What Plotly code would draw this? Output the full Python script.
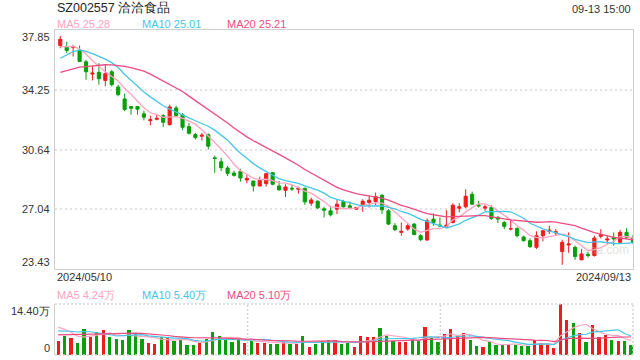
import plotly.graph_objects as go
import pandas as pd

# ---------------- data ----------------
dates_label = ["2024/05/10", "2024/09/13"]
title_text = "SZ002557 洽洽食品"
time_text = "09-13 15:00"

opens = [36.91, 36.81, 36.79, 36.61, 35.93, 35.19, 35.29, 34.81, 35.33, 34.41,
         33.69, 33.23, 33.23, 32.79, 32.38, 32.46, 32.68, 32.14, 33.15, 32.74,
         32.02, 31.54, 31.44, 31.54, 30.14, 29.90, 29.52, 29.22, 29.32, 28.80,
         28.74, 28.44, 28.58, 29.24, 28.44, 28.18, 28.30, 28.24, 28.30, 27.40,
         27.52, 27.06, 26.94, 27.04, 27.50, 27.24, 27.04, 27.30, 27.44, 27.50,
         27.88, 26.94, 26.04, 25.64, 25.84, 26.14, 25.44, 25.18, 26.44, 26.08,
         26.00, 26.24, 27.10, 27.18, 27.94, 27.30, 27.10, 27.14, 26.54, 26.24,
         25.84, 25.88, 25.36, 25.14, 24.74, 25.44, 25.70, 25.60, 24.48, 24.88,
         24.74, 23.98, 24.32, 24.24, 25.40, 25.18, 25.34, 25.04, 25.64, 25.34]
highs = [37.49, 37.15, 36.95, 36.91, 36.05, 35.65, 35.85, 35.79, 35.45, 34.55,
         34.01, 33.23, 33.23, 32.99, 32.68, 32.72, 32.78, 33.35, 33.29, 32.84,
         32.24, 31.64, 31.64, 31.60, 30.28, 30.14, 29.64, 29.36, 29.48, 29.10,
         28.74, 29.00, 29.24, 29.28, 28.74, 28.54, 28.54, 28.40, 28.34, 27.74,
         27.58, 27.18, 27.24, 27.60, 27.60, 27.50, 27.18, 27.64, 27.84, 28.04,
         27.94, 27.04, 26.20, 26.24, 26.20, 26.20, 25.54, 26.48, 26.78, 26.54,
         26.98, 27.40, 27.40, 28.24, 28.10, 27.54, 27.30, 27.28, 26.64, 26.32,
         26.44, 25.94, 25.44, 25.28, 25.70, 25.78, 26.04, 25.84, 25.20, 25.64,
         24.84, 24.64, 24.48, 25.44, 25.84, 25.48, 25.64, 25.78, 25.88, 25.48]
lows = [36.75, 36.45, 36.25, 35.91, 34.85, 34.81, 34.55, 34.45, 34.45, 33.85,
        32.95, 32.74, 32.74, 32.40, 32.10, 32.40, 32.00, 32.08, 32.60, 31.80,
        31.54, 31.24, 31.18, 30.64, 29.24, 29.34, 29.04, 29.00, 28.70, 28.60,
        28.10, 28.40, 28.40, 28.48, 28.18, 27.78, 28.14, 27.98, 27.30, 27.24,
        27.04, 26.54, 26.60, 26.74, 27.14, 27.04, 27.00, 26.88, 27.14, 27.28,
        26.74, 26.08, 25.72, 25.44, 25.74, 25.48, 25.10, 25.12, 26.04, 25.94,
        25.92, 26.18, 26.84, 27.10, 27.30, 27.14, 26.94, 26.40, 26.20, 25.84,
        25.76, 25.34, 25.08, 24.70, 24.64, 25.10, 25.54, 25.44, 23.68, 24.40,
        23.98, 23.98, 24.12, 24.18, 25.28, 24.94, 24.84, 24.94, 25.24, 24.94]
closes = [37.29, 36.61, 36.85, 35.95, 35.33, 35.25, 34.91, 35.21, 34.55, 33.95,
          33.05, 33.13, 33.07, 32.59, 32.44, 32.52, 32.28, 33.21, 32.68, 31.98,
          31.62, 31.36, 31.50, 30.84, 30.10, 29.54, 29.20, 29.08, 28.92, 28.90,
          28.44, 28.78, 29.18, 28.54, 28.20, 28.38, 28.26, 28.30, 27.48, 27.60,
          27.12, 26.98, 26.70, 27.34, 27.18, 27.14, 27.14, 27.52, 27.58, 27.80,
          27.00, 26.14, 25.80, 25.70, 26.04, 25.50, 25.20, 26.34, 26.24, 26.02,
          26.08, 27.28, 27.18, 27.82, 27.34, 27.24, 27.18, 26.48, 26.44, 26.00,
          25.86, 25.44, 25.14, 24.78, 25.44, 25.74, 25.78, 25.68, 25.04, 24.94,
          24.18, 24.34, 24.24, 25.30, 25.50, 25.24, 25.24, 25.64, 25.34, 25.04]
# closes before the window (estimated from where the MA lines start)
pre_closes = [34.2, 34.5, 34.3, 34.6, 34.4, 34.5, 34.3, 34.6, 34.5, 34.4,
              34.7, 34.8, 34.9, 36.2, 36.6, 36.5, 36.9, 36.7, 36.84]

# volume in 万
volumes = [4.07, 5.49, 4.93, 3.50, 7.30, 5.21, 6.54, 6.92, 5.12, 4.55,
           4.26, 7.10, 6.06, 4.64, 3.50, 3.22, 5.02, 5.21, 4.07, 4.45,
           2.94, 2.94, 3.50, 4.64, 6.54, 5.40, 4.45, 3.79, 4.45, 3.50,
           4.07, 3.50, 3.50, 3.22, 3.22, 3.79, 3.22, 3.22, 5.40, 2.37,
           3.22, 4.07, 4.26, 4.26, 3.13, 3.50, 2.27, 5.40, 5.02, 5.02,
           7.67, 5.40, 4.07, 3.79, 3.79, 4.45, 4.07, 7.96, 4.83, 3.79,
           5.97, 7.39, 5.40, 6.25, 4.26, 2.56, 2.27, 3.79, 2.94, 2.94,
           2.94, 2.94, 2.65, 2.65, 4.17, 3.32, 2.94, 2.08, 14.40, 9.76,
           9.10, 6.35, 3.79, 8.53, 5.21, 5.78, 4.26, 3.98, 3.98, 2.84]
pre_volumes = [4.5, 4.8, 4.4, 4.7, 4.6, 4.5, 4.9, 4.6, 4.4, 4.6,
               5.5, 5.9, 5.6, 5.8, 5.9, 8.5, 9.2, 8.8, 8.7]

main_ticks = [37.85, 34.25, 30.64, 27.04, 23.43]
vol_max = 14.40
legend_main = ["MA5 25.28", "MA10 25.01", "MA20 25.21"]
legend_vol = ["MA5 4.24万", "MA10 5.40万", "MA20 5.10万"]

# ---------------- styles ----------------
RED = "#ee1d1d"
GREEN = "#0a9e0a"
MA_COLORS = ["#ffa3c0", "#45c6e6", "#ee4c80"]
FONT = "Liberation Sans, Arial, sans-serif"
W, H = 640, 360
L_PX, R_PX = 55, 633
PW = R_PX - L_PX

n = len(closes)
x = list(range(n))


def ma(pre, vals, w):
    s = pd.Series(pre + vals).rolling(w).mean().tolist()
    return s[len(pre):]


fig = go.Figure()

fig.add_trace(go.Candlestick(
    x=x, open=opens, high=highs, low=lows, close=closes,
    increasing=dict(line=dict(color=RED, width=1), fillcolor=RED),
    decreasing=dict(line=dict(color=GREEN, width=1), fillcolor=GREEN),
    whiskerwidth=0, xaxis="x", yaxis="y", showlegend=False, hoverinfo="skip"))

for w, c in zip([5, 10, 20], MA_COLORS):
    fig.add_trace(go.Scatter(x=x, y=ma(pre_closes, closes, w), mode="lines",
                             line=dict(color=c, width=1.3), xaxis="x", yaxis="y",
                             showlegend=False, hoverinfo="skip"))

vcolors = [RED if c >= o else GREEN for o, c in zip(opens, closes)]
fig.add_trace(go.Bar(x=x, y=volumes, marker=dict(color=vcolors, line=dict(width=0)),
                     width=0.5, xaxis="x2", yaxis="y2", showlegend=False, hoverinfo="skip"))
for w, c in zip([5, 10, 20], MA_COLORS):
    fig.add_trace(go.Scatter(x=x, y=ma(pre_volumes, volumes, w), mode="lines",
                             line=dict(color=c, width=1.2), xaxis="x2", yaxis="y2",
                             showlegend=False, hoverinfo="skip"))


def py(px):
    return 1 - px / H


def px_x(px):
    return (px - L_PX) / PW


main_dom = [py(269), py(30)]
vol_dom = [py(355), py(304)]

fig.update_layout(
    width=W, height=H, margin=dict(l=L_PX, r=W - R_PX, t=0, b=0),
    paper_bgcolor="white", plot_bgcolor="white",
    font=dict(family=FONT, size=11, color="#333"),
    bargap=0,
    xaxis=dict(domain=[0, 1], range=[-0.82, 89.0], showticklabels=False, ticks="",
               showgrid=False, zeroline=False, showline=True, mirror=True,
               linecolor="#cfcfcf", linewidth=1, rangeslider=dict(visible=False),
               anchor="y", fixedrange=True),
    yaxis=dict(domain=main_dom, range=[main_ticks[-1], main_ticks[0]],
               tickvals=main_ticks[1:-1], showticklabels=False, ticks="",
               showgrid=True, gridcolor="#e2e2e2", gridwidth=2, griddash="2px,3px",
               zeroline=False, showline=True, mirror=True, linecolor="#cfcfcf",
               linewidth=1, anchor="x"),
    xaxis2=dict(domain=[0, 1], range=[-0.5, 89.3], showticklabels=False, ticks="",
                showgrid=False, zeroline=False, showline=False, anchor="y2"),
    yaxis2=dict(domain=vol_dom, range=[0, vol_max], showticklabels=False, ticks="",
                showgrid=False, zeroline=False, showline=True, mirror=False,
                linecolor="#cfcfcf", linewidth=1, anchor="x2"),
)

# dotted frame + vertical grid in the volume panel
dot = dict(color="#d6d6d6", width=1.5, dash="2px,2px")
shapes = [
    dict(type="line", xref="x2 domain", yref="y2 domain", x0=0, x1=1, y0=1, y1=1, line=dot),
    dict(type="line", xref="x2 domain", yref="y2 domain", x0=1, x1=1, y0=0, y1=1, line=dot),
    dict(type="line", xref="x2 domain", yref="y2 domain", x0=0, x1=1, y0=0, y1=0, line=dot),
    dict(type="line", xref="x2 domain", yref="y2 domain", x0=1 / 3, x1=1 / 3, y0=0, y1=1, line=dot),
    dict(type="line", xref="x2 domain", yref="y2 domain", x0=2 / 3, x1=2 / 3, y0=0, y1=1, line=dot),
]
fig.update_layout(shapes=shapes)

ann = []
ann.append(dict(text=title_text, x=0, y=py(8), xref="paper", yref="paper",
                xanchor="left", yanchor="middle", showarrow=False,
                font=dict(size=12.5, color="#222")))
ann.append(dict(text=time_text, x=1, y=py(9), xref="paper", yref="paper",
                xanchor="right", yanchor="middle", showarrow=False,
                font=dict(size=11, color="#333")))
for t, c, xp in zip(legend_main, MA_COLORS, [55, 140, 225]):
    ann.append(dict(text=t, x=px_x(xp), y=py(24), xref="paper", yref="paper",
                    xanchor="left", yanchor="middle", showarrow=False,
                    font=dict(size=11, color=c)))
for t, c, xp in zip(legend_vol, MA_COLORS, [55, 140, 225]):
    ann.append(dict(text=t, x=px_x(xp), y=py(295), xref="paper", yref="paper",
                    xanchor="left", yanchor="middle", showarrow=False,
                    font=dict(size=11, color=c)))
# price tick labels
for i, v in enumerate(main_ticks):
    ya = "top" if i == 0 else ("bottom" if i == len(main_ticks) - 1 else "middle")
    ann.append(dict(text=f"{v:.2f}", x=px_x(51), y=v, xref="paper", yref="y",
                    xanchor="right", yanchor=ya, showarrow=False, borderpad=0,
                    font=dict(size=11, color="#333")))
ann.append(dict(text=f"{vol_max:.2f}万", x=px_x(51), y=vol_max, xref="paper", yref="y2",
                xanchor="right", yanchor="top", showarrow=False, borderpad=0,
                font=dict(size=11, color="#333")))
ann.append(dict(text="0", x=px_x(51), y=0, xref="paper", yref="y2",
                xanchor="right", yanchor="bottom", showarrow=False, borderpad=0,
                font=dict(size=11, color="#333")))
# date labels
ann.append(dict(text=dates_label[0], x=0, y=py(277), xref="paper", yref="paper",
                xanchor="left", yanchor="middle", showarrow=False,
                font=dict(size=11, color="#333")))
ann.append(dict(text=dates_label[1], x=1, y=py(277), xref="paper", yref="paper",
                xanchor="right", yanchor="middle", showarrow=False,
                font=dict(size=11, color="#333")))
# faint watermark
ann.append(dict(text="sina.com", x=px_x(605), y=py(250), xref="paper", yref="paper",
                xanchor="center", yanchor="middle", showarrow=False,
                font=dict(size=12, color="rgba(190,190,190,0.45)")))
fig.update_layout(annotations=ann)

fig.write_html("out.html", config=dict(displayModeBar=False),
               post_script="document.body.style.margin='0px';document.body.style.padding='0px';document.body.style.overflow='hidden';")
